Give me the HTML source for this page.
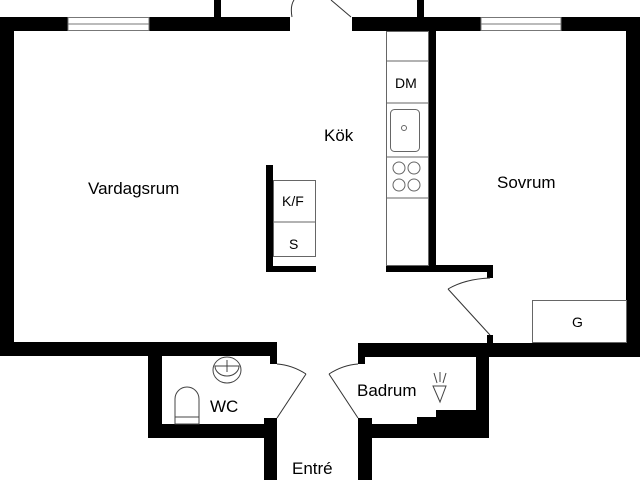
<!DOCTYPE html>
<html><head><meta charset="utf-8"><style>
html,body{margin:0;padding:0;background:#fff;}
svg{display:block;}
text{font-family:"Liberation Sans",sans-serif;fill:#000;}
</style></head><body>
<svg width="640" height="480" viewBox="0 0 640 480" xmlns="http://www.w3.org/2000/svg">
<rect width="640" height="480" fill="#fff"/>
<g fill="#000">
<rect x="0" y="17" width="68" height="14"/>
<rect x="149" y="17" width="141" height="14"/>
<rect x="214" y="0" width="7" height="17"/>
<rect x="352" y="17" width="129" height="14"/>
<rect x="561" y="17" width="79" height="14"/>
<rect x="417" y="0" width="7" height="17"/>
<rect x="0" y="17" width="14" height="338"/>
<rect x="0" y="342" width="277" height="14"/>
<rect x="626" y="17" width="14" height="339"/>
<rect x="358" y="343" width="282" height="14"/>
<rect x="266" y="165" width="7" height="107"/>
<rect x="266" y="266" width="50" height="6"/>
<rect x="429" y="31" width="7" height="241"/>
<rect x="386" y="265" width="107" height="7"/>
<rect x="487" y="265" width="6" height="13"/>
<rect x="487" y="335" width="6" height="8"/>
<rect x="148" y="343" width="14" height="95"/>
<rect x="148" y="424" width="129" height="14"/>
<rect x="270" y="343" width="7" height="21"/>
<rect x="264" y="418" width="13" height="62"/>
<rect x="358" y="343" width="7" height="21"/>
<rect x="358" y="418" width="14" height="62"/>
<rect x="358" y="424" width="131" height="14"/>
<rect x="476" y="343" width="13" height="95"/>
<polygon points="417,424 417,417 436,417 436,410 476,410 476,424"/>
</g>
<g fill="none" stroke="#777" stroke-width="1">
<rect x="68" y="17.5" width="81" height="13"/><line x1="68" y1="24" x2="149" y2="24"/>
<rect x="481" y="17.5" width="80" height="13"/><line x1="481" y1="24" x2="561" y2="24"/>
</g>
<g fill="none" stroke="#333" stroke-width="1">
<path d="M292 17 Q290 6 294 0"/>
<line x1="331" y1="0" x2="351" y2="17"/>
<line x1="277" y1="418" x2="306" y2="374"/>
<path d="M306 374 Q292 365 277 364"/>
<line x1="358" y1="418" x2="329" y2="374"/>
<path d="M329 374 Q343 365 358 364"/>
<line x1="490" y1="335" x2="448" y2="289"/>
<path d="M448 289 Q465 279 490 278"/>
</g>
<g fill="none" stroke="#666" stroke-width="1">
<rect x="386.5" y="31.5" width="42" height="234"/>
<line x1="387" y1="61" x2="429" y2="61"/>
<line x1="387" y1="103" x2="429" y2="103"/>
<line x1="387" y1="157" x2="429" y2="157"/>
<line x1="387" y1="198" x2="429" y2="198"/>
<rect x="390.5" y="109.5" width="29" height="42" rx="4"/>
<circle cx="404" cy="128" r="2.5"/>
<circle cx="399" cy="168" r="6"/><circle cx="414" cy="168" r="6"/>
<circle cx="399" cy="185" r="6"/><circle cx="414" cy="185" r="6"/>
<rect x="273.5" y="180.5" width="42" height="76"/>
<line x1="273" y1="222" x2="316" y2="222"/>
<rect x="532.5" y="300.5" width="94" height="42"/>
<ellipse cx="227" cy="370" rx="14" ry="13" stroke="#444"/>
<path d="M215 366 A12 10 0 0 0 239 366 Z" stroke="#444"/>
<line x1="227" y1="360" x2="227" y2="372" stroke="#444"/>
<path d="M175 424 V399 A12 12 0 0 1 199 399 V424 Z" stroke="#444"/>
<line x1="175" y1="417" x2="199" y2="417" stroke="#444"/>
<path d="M433 386 L446 386 L440 402 Z" stroke="#444"/>
<line x1="434" y1="373" x2="437" y2="383" stroke="#444"/>
<line x1="440" y1="372" x2="440" y2="382" stroke="#444"/>
<line x1="446" y1="373" x2="443" y2="383" stroke="#444"/>
</g>
<g font-size="17">
<text x="88" y="194">Vardagsrum</text>
<text x="324" y="141">Kök</text>
<text x="497" y="188">Sovrum</text>
<text x="210" y="412">WC</text>
<text x="357" y="396">Badrum</text>
<text x="292" y="474">Entré</text>
</g>
<g font-size="14">
<text x="395" y="88">DM</text>
<text x="282" y="206">K/F</text>
<text x="289" y="249">S</text>
<text x="572" y="327">G</text>
</g>
</svg>
</body></html>
